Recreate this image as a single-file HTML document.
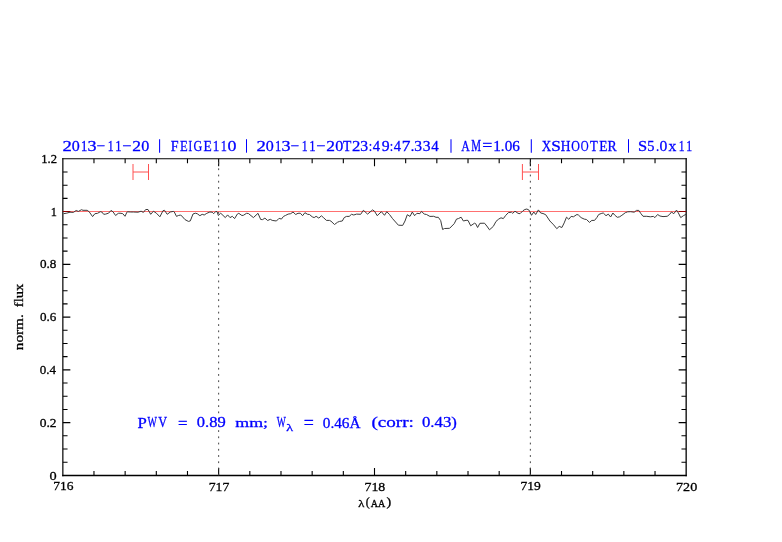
<!DOCTYPE html>
<html><head><meta charset="utf-8"><style>
html,body{margin:0;padding:0;background:#fff;width:782px;height:542px;overflow:hidden}
svg{position:absolute;left:0;top:0;display:block;will-change:transform}
text{font-family:"Liberation Serif",serif}
</style></head><body>
<svg width="782" height="542" viewBox="0 0 782 542">
<path d="M62.85 158.2V476.2" stroke="#000" stroke-width="1.2" fill="none"/>
<path d="M686.16 158.2V476.2" stroke="#000" stroke-width="1.3" fill="none"/>
<path d="M62.2 158.81H686.8" stroke="#000" stroke-width="1.12" fill="none"/>
<path d="M62.2 475.5H686.8" stroke="#000" stroke-width="1.36" fill="none"/>
<path d="M93.97 475.5V471.0M93.97 158.81V163.31M125.14 475.5V471.0M125.14 158.81V163.31M156.31 475.5V471.0M156.31 158.81V163.31M187.48 475.5V471.0M187.48 158.81V163.31M218.65 475.5V468.0M218.65 158.81V166.31M249.82 475.5V471.0M249.82 158.81V163.31M280.99 475.5V471.0M280.99 158.81V163.31M312.16 475.5V471.0M312.16 158.81V163.31M343.33 475.5V471.0M343.33 158.81V163.31M374.50 475.5V468.0M374.50 158.81V166.31M405.67 475.5V471.0M405.67 158.81V163.31M436.84 475.5V471.0M436.84 158.81V163.31M468.01 475.5V471.0M468.01 158.81V163.31M499.18 475.5V471.0M499.18 158.81V163.31M530.35 475.5V468.0M530.35 158.81V166.31M561.52 475.5V471.0M561.52 158.81V163.31M592.69 475.5V471.0M592.69 158.81V163.31M623.86 475.5V471.0M623.86 158.81V163.31M655.03 475.5V471.0M655.03 158.81V163.31M62.85 462.21H67.55M686.16 462.21H681.4599999999999M62.85 449.02H67.55M686.16 449.02H681.4599999999999M62.85 435.82H67.55M686.16 435.82H681.4599999999999M62.85 422.63H70.35M686.16 422.63H678.66M62.85 409.44H67.55M686.16 409.44H681.4599999999999M62.85 396.25H67.55M686.16 396.25H681.4599999999999M62.85 383.06H67.55M686.16 383.06H681.4599999999999M62.85 369.87H70.35M686.16 369.87H678.66M62.85 356.67H67.55M686.16 356.67H681.4599999999999M62.85 343.48H67.55M686.16 343.48H681.4599999999999M62.85 330.29H67.55M686.16 330.29H681.4599999999999M62.85 317.10H70.35M686.16 317.10H678.66M62.85 303.91H67.55M686.16 303.91H681.4599999999999M62.85 290.72H67.55M686.16 290.72H681.4599999999999M62.85 277.52H67.55M686.16 277.52H681.4599999999999M62.85 264.33H70.35M686.16 264.33H678.66M62.85 251.14H67.55M686.16 251.14H681.4599999999999M62.85 237.95H67.55M686.16 237.95H681.4599999999999M62.85 224.76H67.55M686.16 224.76H681.4599999999999M62.85 211.57H70.35M686.16 211.57H678.66M62.85 198.38H67.55M686.16 198.38H681.4599999999999M62.85 185.18H67.55M686.16 185.18H681.4599999999999M62.85 171.99H67.55M686.16 171.99H681.4599999999999" stroke="#000" stroke-width="1.1" fill="none"/>
<path d="M62.8 211.5H686.2" stroke="#f00" stroke-opacity="0.56" stroke-width="1" fill="none"/>
<path d="M218.65 158.8V475.4" stroke="#444" stroke-width="1" stroke-dasharray="1.8 4.434" stroke-dashoffset="-3.3" fill="none"/>
<path d="M530.35 158.8V475.4" stroke="#444" stroke-width="1" stroke-dasharray="1.8 4.434" stroke-dashoffset="-3.3" fill="none"/>
<polyline fill="none" stroke="#3a3a3a" stroke-width="1" stroke-linejoin="round" points="63.5,213.7 66.9,213.1 70.0,212.2 73.4,212.4 76.1,210.5 78.4,211.4 81.5,209.7 83.0,210.3 87.2,210.3 89.2,211.8 92.6,216.6 94.9,213.7 97.6,213.3 100.3,211.7 101.8,212.0 103.7,214.3 105.7,214.1 108.7,213.1 111.0,210.4 113.0,211.8 115.6,215.5 118.3,213.3 120.0,213.2 122.7,213.6 125.0,216.3 126.9,212.2 127.7,211.8 130.3,212.0 133.4,212.0 138.0,212.2 141.1,211.2 143.4,212.4 145.7,209.5 148.0,209.5 150.7,214.3 153.4,211.2 156.4,213.2 159.9,216.8 163.0,210.7 164.5,210.3 167.2,214.3 170.3,212.0 173.3,211.4 174.2,211.8 176.5,216.4 178.4,215.5 180.7,215.0 182.7,217.0 185.0,219.6 188.4,221.4 190.3,220.9 193.0,214.0 195.3,213.2 197.2,213.7 199.9,215.7 202.2,214.3 204.2,215.0 206.8,213.3 209.9,212.0 212.2,212.2 213.7,213.7 216.0,211.2 217.2,212.0 218.3,215.5 220.7,213.2 225.3,217.6 227.6,214.9 230.0,217.6 232.3,216.3 234.6,218.6 237.3,214.1 238.8,213.3 241.9,215.5 243.4,215.3 246.5,213.3 248.4,213.5 253.4,217.6 258.0,213.3 260.7,219.5 262.6,219.6 264.9,218.1 267.6,220.5 270.3,219.3 272.2,220.4 276.4,221.0 279.1,218.3 281.4,219.1 283.5,216.4 285.4,215.5 288.1,214.1 290.7,213.7 293.0,212.0 295.7,214.5 298.0,213.3 300.3,213.2 302.6,215.7 304.9,212.7 307.6,214.3 309.5,214.5 312.2,216.8 314.2,217.6 316.1,216.3 318.8,218.1 321.4,215.8 323.7,217.8 326.4,220.4 329.5,220.4 331.0,221.2 334.5,224.5 337.6,222.2 339.6,221.4 342.3,221.0 344.2,217.6 346.5,216.4 349.2,216.4 351.5,214.3 353.8,215.0 356.5,214.1 360.7,214.3 363.4,210.3 367.6,214.1 372.6,209.9 374.5,211.2 377.2,215.7 381.4,211.7 384.5,215.3 386.8,211.7 389.5,214.5 392.6,218.7 398.4,225.2 402.7,225.4 405.0,221.0 407.3,214.7 410.0,216.4 412.3,212.0 414.6,215.7 416.9,213.3 419.9,213.7 421.5,211.4 424.2,214.0 426.5,214.5 429.9,216.4 433.7,216.3 436.0,217.3 438.3,217.3 440.7,220.6 442.6,229.5 444.5,228.5 449.6,228.3 454.2,223.7 456.5,219.1 458.4,218.6 461.1,217.2 463.4,221.0 466.1,220.3 468.0,220.4 470.7,225.8 474.5,223.2 475.7,223.7 477.6,227.5 479.9,223.3 484.5,223.2 486.8,226.0 489.5,229.8 493.3,226.4 496.0,221.4 498.7,219.1 501.0,217.8 503.3,218.6 505.8,215.3 508.4,212.6 511.5,212.2 512.7,213.3 515.0,211.2 518.0,213.3 520.0,213.7 523.0,210.7 524.9,209.5 526.9,209.0 529.2,210.3 531.5,215.3 533.8,212.0 535.7,214.5 538.4,209.9 540.7,213.0 543.0,213.5 545.7,214.7 549.9,221.0 553.7,224.9 556.8,228.7 559.2,226.4 561.9,227.5 564.2,222.9 566.5,217.2 568.8,219.3 571.1,216.4 573.4,216.8 576.9,214.5 578.4,215.0 581.1,217.6 584.2,219.1 586.5,219.5 589.5,222.4 591.8,220.4 594.5,220.4 596.8,217.6 598.7,214.5 601.8,213.3 603.3,213.0 606.0,215.7 608.3,214.1 610.6,217.0 612.9,213.0 614.6,215.0 617.3,217.3 619.6,216.8 621.9,215.3 625.3,212.7 627.7,211.8 630.7,211.7 634.2,212.2 636.5,210.4 638.8,210.4 640.7,213.3 643.0,216.3 646.8,216.3 650.3,216.8 653.4,216.4 654.9,217.6 657.6,214.5 659.9,216.0 663.0,216.6 667.2,216.3 669.5,214.5 671.5,212.0 673.8,213.7 676.5,210.1 678.4,213.0 680.7,217.6 683.7,215.5 686.4,214.1"/>
<path d="M133.0 164V180M148.5 164V180M133.0 172H148.5" stroke="#ff5050" stroke-width="1" fill="none"/>
<path d="M522.4 164V180M538.5 164V180M522.4 172H538.5" stroke="#ff5050" stroke-width="1" fill="none"/>
<path d="M159.6 139.2V152.7" stroke="#00f" stroke-width="1.05" fill="none"/>
<path d="M246.5 139.2V152.7" stroke="#00f" stroke-width="1.05" fill="none"/>
<path d="M451.0 139.2V152.7" stroke="#00f" stroke-width="1.05" fill="none"/>
<path d="M531.3 139.2V152.7" stroke="#00f" stroke-width="1.05" fill="none"/>
<path d="M628.5 139.2V152.7" stroke="#00f" stroke-width="1.05" fill="none"/>
<text x="49.5" y="479.5" font-size="12.71" textLength="7.15" lengthAdjust="spacingAndGlyphs" fill="#000" stroke="#000" stroke-width="0.3">0</text>
<text x="39.75" y="426.75" font-size="12.71" textLength="16.85" lengthAdjust="spacingAndGlyphs" fill="#000" stroke="#000" stroke-width="0.3">0.2</text>
<text x="39.75" y="374.0" font-size="12.71" textLength="16.3" lengthAdjust="spacingAndGlyphs" fill="#000" stroke="#000" stroke-width="0.3">0.4</text>
<text x="40.0" y="321.0" font-size="12.21" textLength="16.32" lengthAdjust="spacingAndGlyphs" fill="#000" stroke="#000" stroke-width="0.3">0.6</text>
<text x="40.0" y="268.25" font-size="12.28" textLength="16.44" lengthAdjust="spacingAndGlyphs" fill="#000" stroke="#000" stroke-width="0.3">0.8</text>
<text x="50.75" y="216.25" font-size="12.94" textLength="6.15" lengthAdjust="spacingAndGlyphs" fill="#000" stroke="#000" stroke-width="0.3">1</text>
<text x="41.25" y="163.0" font-size="12.6" textLength="15.76" lengthAdjust="spacingAndGlyphs" fill="#000" stroke="#000" stroke-width="0.3">1.2</text>
<text x="53.25" y="490.25" font-size="12.83" textLength="20.22" lengthAdjust="spacingAndGlyphs" fill="#000" stroke="#000" stroke-width="0.3">716</text>
<text x="208.75" y="490.5" font-size="13.17" textLength="20.59" lengthAdjust="spacingAndGlyphs" fill="#000" stroke="#000" stroke-width="0.3">717</text>
<text x="364.5" y="490.5" font-size="12.85" textLength="20.8" lengthAdjust="spacingAndGlyphs" fill="#000" stroke="#000" stroke-width="0.3">718</text>
<text x="520.5" y="490.25" font-size="12.83" textLength="20.34" lengthAdjust="spacingAndGlyphs" fill="#000" stroke="#000" stroke-width="0.3">719</text>
<text x="676.0" y="490.5" font-size="12.85" textLength="21.22" lengthAdjust="spacingAndGlyphs" fill="#000" stroke="#000" stroke-width="0.3">720</text>
<text x="178.0" y="428.5" font-size="16.27" textLength="9.55" lengthAdjust="spacingAndGlyphs" fill="#00f" stroke="#00f" stroke-width="0.3">=</text>
<text x="196.75" y="427.25" font-size="14.22" textLength="28.9" lengthAdjust="spacingAndGlyphs" fill="#00f" stroke="#00f" stroke-width="0.3">0.89</text>
<text x="235.25" y="426.75" font-size="13.38" textLength="32.72" lengthAdjust="spacingAndGlyphs" fill="#00f" stroke="#00f" stroke-width="0.3">mm;</text>
<text x="276.75" y="427.25" font-size="13.93" textLength="9.08" lengthAdjust="spacingAndGlyphs" fill="#00f" stroke="#00f" stroke-width="0.3">W</text>
<text x="286.25" y="431.25" font-size="11.04" textLength="6.84" lengthAdjust="spacingAndGlyphs" fill="#00f" stroke="#00f" stroke-width="0.3">λ</text>
<text x="303.75" y="429.25" font-size="17.95" textLength="10.12" lengthAdjust="spacingAndGlyphs" fill="#00f" stroke="#00f" stroke-width="0.3">=</text>
<text x="322.75" y="427.5" font-size="15.01" textLength="37.81" lengthAdjust="spacingAndGlyphs" fill="#00f" stroke="#00f" stroke-width="0.3">0.46Å</text>
<text x="371.5" y="426.5" font-size="14.5" textLength="42.35" lengthAdjust="spacingAndGlyphs" fill="#00f" stroke="#00f" stroke-width="0.3">(corr:</text>
<text x="422.0" y="426.5" font-size="14.5" textLength="34.87" lengthAdjust="spacingAndGlyphs" fill="#00f" stroke="#00f" stroke-width="0.3">0.43)</text>
<text x="358.25" y="506.5" font-size="10.36" textLength="6.13" lengthAdjust="spacingAndGlyphs" fill="#000" stroke="#000" stroke-width="0.3">λ</text>
<text x="365.75" y="506.25" font-size="11.84" textLength="3.99" lengthAdjust="spacingAndGlyphs" fill="#000" stroke="#000" stroke-width="0.3">(</text>
<text x="370.75" y="506.5" font-size="10.99" textLength="14.56" lengthAdjust="spacingAndGlyphs" fill="#000" stroke="#000" stroke-width="0.3">AA</text>
<text x="386.5" y="506.25" font-size="11.84" textLength="4.7" lengthAdjust="spacingAndGlyphs" fill="#000" stroke="#000" stroke-width="0.3">)</text>
<text x="461.25" y="150.75" font-size="15.44" textLength="8.53" lengthAdjust="spacingAndGlyphs" fill="#00f" stroke="#00f" stroke-width="0.3">A</text>
<text x="471.25" y="151.0" font-size="15.82" textLength="9.78" lengthAdjust="spacingAndGlyphs" fill="#00f" stroke="#00f" stroke-width="0.3">M</text>
<text x="482.25" y="151.25" font-size="16.08" textLength="10.08" lengthAdjust="spacingAndGlyphs" fill="#00f" stroke="#00f" stroke-width="0.3">=</text>
<text x="493.25" y="150.5" font-size="15.01" textLength="26.62" lengthAdjust="spacingAndGlyphs" fill="#00f" stroke="#00f" stroke-width="0.3">1.06</text>
<text x="137.5" y="427.5" font-size="15.14" textLength="9.3" lengthAdjust="spacingAndGlyphs" fill="#00f" stroke="#00f" stroke-width="0.3">P</text>
<text x="147.5" y="427.25" font-size="14.74" textLength="9.42" lengthAdjust="spacingAndGlyphs" fill="#00f" stroke="#00f" stroke-width="0.3">W</text>
<text x="158.25" y="427.25" font-size="14.74" textLength="8.83" lengthAdjust="spacingAndGlyphs" fill="#00f" stroke="#00f" stroke-width="0.3">V</text>
<text x="62.5" y="150.6" font-size="15.3" textLength="9.38" lengthAdjust="spacingAndGlyphs" fill="#00f" stroke="#00f" stroke-width="0.3">2</text>
<text x="71.75" y="150.6" font-size="15.3" textLength="8.02" lengthAdjust="spacingAndGlyphs" fill="#00f" stroke="#00f" stroke-width="0.3">0</text>
<text x="81.0" y="150.6" font-size="15.3" textLength="6.27" lengthAdjust="spacingAndGlyphs" fill="#00f" stroke="#00f" stroke-width="0.3">1</text>
<text x="87.5" y="150.6" font-size="15.3" textLength="9.04" lengthAdjust="spacingAndGlyphs" fill="#00f" stroke="#00f" stroke-width="0.3">3</text>
<text x="96.5" y="150.6" font-size="15.3" textLength="8.65" lengthAdjust="spacingAndGlyphs" fill="#00f" stroke="#00f" stroke-width="0.3">−</text>
<text x="107.75" y="150.6" font-size="15.3" textLength="5.87" lengthAdjust="spacingAndGlyphs" fill="#00f" stroke="#00f" stroke-width="0.3">1</text>
<text x="115.25" y="150.6" font-size="15.3" textLength="6.27" lengthAdjust="spacingAndGlyphs" fill="#00f" stroke="#00f" stroke-width="0.3">1</text>
<text x="122.25" y="150.6" font-size="15.3" textLength="9.23" lengthAdjust="spacingAndGlyphs" fill="#00f" stroke="#00f" stroke-width="0.3">−</text>
<text x="132.25" y="150.6" font-size="15.3" textLength="8.73" lengthAdjust="spacingAndGlyphs" fill="#00f" stroke="#00f" stroke-width="0.3">2</text>
<text x="141.25" y="150.6" font-size="15.3" textLength="8.06" lengthAdjust="spacingAndGlyphs" fill="#00f" stroke="#00f" stroke-width="0.3">0</text>
<text x="256.5" y="150.6" font-size="15.3" textLength="9.38" lengthAdjust="spacingAndGlyphs" fill="#00f" stroke="#00f" stroke-width="0.3">2</text>
<text x="265.75" y="150.6" font-size="15.3" textLength="8.02" lengthAdjust="spacingAndGlyphs" fill="#00f" stroke="#00f" stroke-width="0.3">0</text>
<text x="275.0" y="150.6" font-size="15.3" textLength="6.27" lengthAdjust="spacingAndGlyphs" fill="#00f" stroke="#00f" stroke-width="0.3">1</text>
<text x="281.5" y="150.6" font-size="15.3" textLength="9.04" lengthAdjust="spacingAndGlyphs" fill="#00f" stroke="#00f" stroke-width="0.3">3</text>
<text x="290.5" y="150.6" font-size="15.3" textLength="8.65" lengthAdjust="spacingAndGlyphs" fill="#00f" stroke="#00f" stroke-width="0.3">−</text>
<text x="301.75" y="150.6" font-size="15.3" textLength="5.87" lengthAdjust="spacingAndGlyphs" fill="#00f" stroke="#00f" stroke-width="0.3">1</text>
<text x="309.25" y="150.6" font-size="15.3" textLength="6.27" lengthAdjust="spacingAndGlyphs" fill="#00f" stroke="#00f" stroke-width="0.3">1</text>
<text x="316.25" y="150.6" font-size="15.3" textLength="9.23" lengthAdjust="spacingAndGlyphs" fill="#00f" stroke="#00f" stroke-width="0.3">−</text>
<text x="326.25" y="150.6" font-size="15.3" textLength="8.73" lengthAdjust="spacingAndGlyphs" fill="#00f" stroke="#00f" stroke-width="0.3">2</text>
<text x="335.25" y="150.6" font-size="15.3" textLength="8.06" lengthAdjust="spacingAndGlyphs" fill="#00f" stroke="#00f" stroke-width="0.3">0</text>
<text x="343.0" y="150.6" font-size="15.3" textLength="8.33" lengthAdjust="spacingAndGlyphs" fill="#00f" stroke="#00f" stroke-width="0.3">T</text>
<text x="352.0" y="150.6" font-size="15.3" textLength="8.37" lengthAdjust="spacingAndGlyphs" fill="#00f" stroke="#00f" stroke-width="0.3">2</text>
<text x="360.25" y="150.6" font-size="15.3" textLength="7.91" lengthAdjust="spacingAndGlyphs" fill="#00f" stroke="#00f" stroke-width="0.3">3</text>
<text x="368.75" y="150.6" font-size="15.3" textLength="3.42" lengthAdjust="spacingAndGlyphs" fill="#00f" stroke="#00f" stroke-width="0.3">:</text>
<text x="372.75" y="150.6" font-size="15.3" textLength="7.34" lengthAdjust="spacingAndGlyphs" fill="#00f" stroke="#00f" stroke-width="0.3">4</text>
<text x="381.75" y="150.6" font-size="15.3" textLength="7.88" lengthAdjust="spacingAndGlyphs" fill="#00f" stroke="#00f" stroke-width="0.3">9</text>
<text x="389.75" y="150.6" font-size="15.3" textLength="3.42" lengthAdjust="spacingAndGlyphs" fill="#00f" stroke="#00f" stroke-width="0.3">:</text>
<text x="393.75" y="150.6" font-size="15.3" textLength="7.24" lengthAdjust="spacingAndGlyphs" fill="#00f" stroke="#00f" stroke-width="0.3">4</text>
<text x="401.75" y="150.6" font-size="15.3" textLength="8.72" lengthAdjust="spacingAndGlyphs" fill="#00f" stroke="#00f" stroke-width="0.3">7</text>
<text x="410.5" y="150.6" font-size="15.3" textLength="4.05" lengthAdjust="spacingAndGlyphs" fill="#00f" stroke="#00f" stroke-width="0.3">.</text>
<text x="414.25" y="150.6" font-size="15.3" textLength="7.83" lengthAdjust="spacingAndGlyphs" fill="#00f" stroke="#00f" stroke-width="0.3">3</text>
<text x="422.75" y="150.6" font-size="15.3" textLength="7.83" lengthAdjust="spacingAndGlyphs" fill="#00f" stroke="#00f" stroke-width="0.3">3</text>
<text x="431.25" y="150.6" font-size="15.3" textLength="7.5" lengthAdjust="spacingAndGlyphs" fill="#00f" stroke="#00f" stroke-width="0.3">4</text>
<text x="170.75" y="150.6" font-size="15.3" textLength="7.81" lengthAdjust="spacingAndGlyphs" fill="#00f" stroke="#00f" stroke-width="0.3">F</text>
<text x="180.0" y="150.6" font-size="15.3" textLength="7.72" lengthAdjust="spacingAndGlyphs" fill="#00f" stroke="#00f" stroke-width="0.3">E</text>
<text x="188.5" y="150.6" font-size="15.3" textLength="3.63" lengthAdjust="spacingAndGlyphs" fill="#00f" stroke="#00f" stroke-width="0.3">I</text>
<text x="193.5" y="150.6" font-size="15.3" textLength="8.75" lengthAdjust="spacingAndGlyphs" fill="#00f" stroke="#00f" stroke-width="0.3">G</text>
<text x="203.5" y="150.6" font-size="15.3" textLength="8.27" lengthAdjust="spacingAndGlyphs" fill="#00f" stroke="#00f" stroke-width="0.3">E</text>
<text x="212.75" y="150.6" font-size="15.3" textLength="6.53" lengthAdjust="spacingAndGlyphs" fill="#00f" stroke="#00f" stroke-width="0.3">1</text>
<text x="220.75" y="150.6" font-size="15.3" textLength="6.14" lengthAdjust="spacingAndGlyphs" fill="#00f" stroke="#00f" stroke-width="0.3">1</text>
<text x="227.5" y="150.6" font-size="15.3" textLength="8.97" lengthAdjust="spacingAndGlyphs" fill="#00f" stroke="#00f" stroke-width="0.3">0</text>
<text x="541.75" y="150.6" font-size="15.3" textLength="9.47" lengthAdjust="spacingAndGlyphs" fill="#00f" stroke="#00f" stroke-width="0.3">X</text>
<text x="551.25" y="150.6" font-size="15.3" textLength="9.59" lengthAdjust="spacingAndGlyphs" fill="#00f" stroke="#00f" stroke-width="0.3">S</text>
<text x="560.75" y="150.6" font-size="15.3" textLength="9.7" lengthAdjust="spacingAndGlyphs" fill="#00f" stroke="#00f" stroke-width="0.3">H</text>
<text x="571.25" y="150.6" font-size="15.3" textLength="8.63" lengthAdjust="spacingAndGlyphs" fill="#00f" stroke="#00f" stroke-width="0.3">O</text>
<text x="580.75" y="150.6" font-size="15.3" textLength="7.87" lengthAdjust="spacingAndGlyphs" fill="#00f" stroke="#00f" stroke-width="0.3">O</text>
<text x="590.0" y="150.6" font-size="15.3" textLength="7.76" lengthAdjust="spacingAndGlyphs" fill="#00f" stroke="#00f" stroke-width="0.3">T</text>
<text x="599.25" y="150.6" font-size="15.3" textLength="8.15" lengthAdjust="spacingAndGlyphs" fill="#00f" stroke="#00f" stroke-width="0.3">E</text>
<text x="607.5" y="150.6" font-size="15.3" textLength="9.18" lengthAdjust="spacingAndGlyphs" fill="#00f" stroke="#00f" stroke-width="0.3">R</text>
<text x="638.0" y="150.6" font-size="15.3" textLength="9.17" lengthAdjust="spacingAndGlyphs" fill="#00f" stroke="#00f" stroke-width="0.3">S</text>
<text x="647.25" y="150.6" font-size="15.3" textLength="7.19" lengthAdjust="spacingAndGlyphs" fill="#00f" stroke="#00f" stroke-width="0.3">5</text>
<text x="656.0" y="150.6" font-size="15.3" textLength="3.28" lengthAdjust="spacingAndGlyphs" fill="#00f" stroke="#00f" stroke-width="0.3">.</text>
<text x="659.5" y="150.6" font-size="15.3" textLength="7.83" lengthAdjust="spacingAndGlyphs" fill="#00f" stroke="#00f" stroke-width="0.3">0</text>
<text x="668.5" y="150.6" font-size="15.3" textLength="7.82" lengthAdjust="spacingAndGlyphs" fill="#00f" stroke="#00f" stroke-width="0.3">x</text>
<text x="678.75" y="150.6" font-size="15.3" textLength="5.75" lengthAdjust="spacingAndGlyphs" fill="#00f" stroke="#00f" stroke-width="0.3">1</text>
<text x="686.25" y="150.6" font-size="15.3" textLength="5.87" lengthAdjust="spacingAndGlyphs" fill="#00f" stroke="#00f" stroke-width="0.3">1</text>
<g transform="translate(-285.90,449.90) rotate(-90)"><text x="99.75" y="309.25" font-size="12.91" textLength="35.91" lengthAdjust="spacingAndGlyphs" fill="#000" stroke="#000" stroke-width="0.3">norm.</text><text x="142.75" y="309.25" font-size="12.84" textLength="23.45" lengthAdjust="spacingAndGlyphs" fill="#000" stroke="#000" stroke-width="0.3">flux</text></g>
</svg>
</body></html>
